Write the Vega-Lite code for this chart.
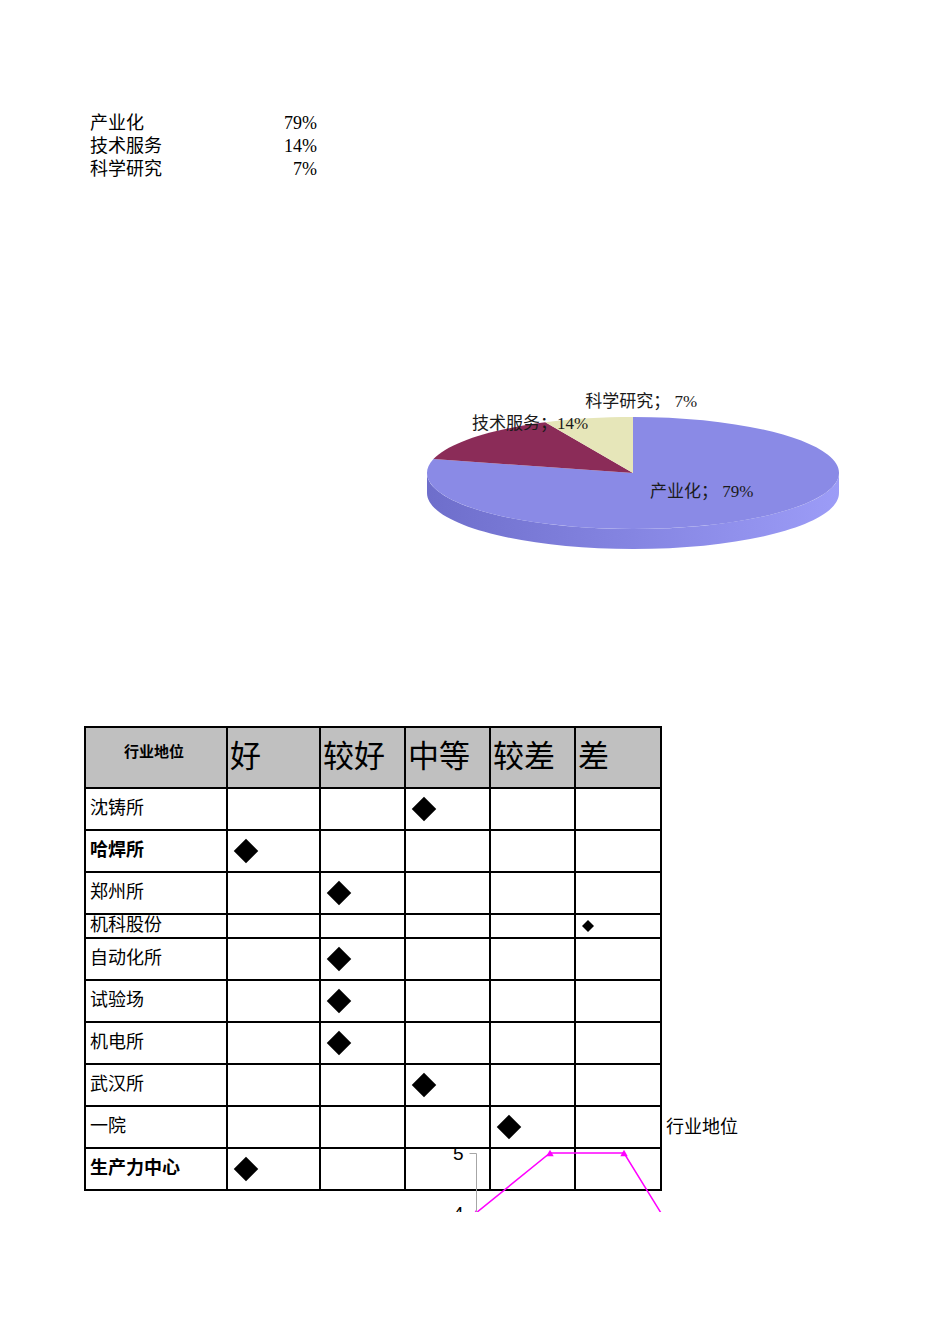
{
  "$schema": "https://vega.github.io/schema/vega-lite/v6.json",
  "width": 950,
  "height": 1212,
  "autosize": {"type": "none"},
  "padding": 0,
  "background": "#ffffff",
  "config": {"view": {"stroke": null}},
  "datasets": {
    "业务构成": [
      {"业务": "产业化", "占比": 0.79},
      {"业务": "技术服务", "占比": 0.14},
      {"业务": "科学研究", "占比": 0.07}
    ],
    "等级": [
      {"等级": "好", "分值": 5},
      {"等级": "较好", "分值": 4},
      {"等级": "中等", "分值": 3},
      {"等级": "较差", "分值": 2},
      {"等级": "差", "分值": 1}
    ],
    "表格": [
      {"序号": 1, "单位": "沈铸所", "行业地位": "中等"},
      {"序号": 2, "单位": "哈焊所", "行业地位": "好"},
      {"序号": 3, "单位": "郑州所", "行业地位": "较好"},
      {"序号": 4, "单位": "机科股份", "行业地位": "差"},
      {"序号": 5, "单位": "自动化所", "行业地位": "较好"},
      {"序号": 6, "单位": "试验场", "行业地位": "较好"},
      {"序号": 7, "单位": "机电所", "行业地位": "较好"},
      {"序号": 8, "单位": "武汉所", "行业地位": "中等"},
      {"序号": 9, "单位": "一院", "行业地位": "较差"},
      {"序号": 10, "单位": "生产力中心", "行业地位": "好"}
    ],
    "行业地位曲线": [
      {"系列": "行业地位", "点": 1, "分值": 4},
      {"系列": "行业地位", "点": 2, "分值": 5},
      {"系列": "行业地位", "点": 3, "分值": 5},
      {"系列": "行业地位", "点": 4, "分值": 3}
    ]
  },
  "layer": [
    {
      "data": {"name": "业务构成"},
      "layer": [
        {
          "mark": {"type": "text", "align": "left", "baseline": "middle", "fontSize": 18, "font": "Liberation Serif, Noto Sans CJK SC", "color": "#000000"},
          "encoding": {
            "x": {"datum": "业务", "type": "nominal", "scale": {"type": "point", "domain": ["业务", "占比"], "range": [90, 317], "padding": 0}, "axis": null},
            "y": {"field": "业务", "type": "nominal", "scale": {"type": "point", "domain": ["产业化", "技术服务", "科学研究"], "range": [124, 170], "padding": 0}, "axis": null},
            "text": {"field": "业务", "type": "nominal"}
          }
        },
        {
          "mark": {"type": "text", "align": "right", "baseline": "middle", "fontSize": 18, "font": "Liberation Serif, Noto Sans CJK SC", "color": "#000000"},
          "encoding": {
            "x": {"datum": "占比", "type": "nominal", "scale": {"type": "point", "domain": ["业务", "占比"], "range": [90, 317], "padding": 0}, "axis": null},
            "y": {"field": "业务", "type": "nominal", "scale": {"type": "point", "domain": ["产业化", "技术服务", "科学研究"], "range": [124, 170], "padding": 0}, "axis": null},
            "text": {"field": "占比", "type": "quantitative", "format": ".0%"}
          }
        }
      ]
    },
    {
      "data": {"name": "业务构成"},
      "layer": [
        {
          "transform": [{"filter": "datum['业务'] === '产业化'"}],
          "mark": {
            "type": "point",
            "shape": "M-1,0 A1,0.272 0 0,0 1,0 L1,0.097 A1,0.272 0 0,1 -1,0.097 Z",
            "filled": true, "size": 169744, "opacity": 1, "strokeWidth": 0,
            "color": {"gradient": "linear", "x1": 0, "y1": 0, "x2": 1, "y2": 0,
              "stops": [{"offset": 0, "color": "#6e6ecb"}, {"offset": 0.5, "color": "#8585e2"}, {"offset": 1, "color": "#9c9cf7"}]}
          },
          "encoding": {
            "x": {"datum": 0, "type": "quantitative", "scale": {"domain": [-1, 1], "range": [427, 839], "zero": false, "nice": false}, "axis": null},
            "y": {"datum": 0, "type": "quantitative", "scale": {"domain": [-1, 1], "range": [417, 529], "zero": false, "nice": false}, "axis": null}
          }
        },
        {
          "mark": {"type": "point", "filled": true, "size": 169744, "opacity": 1, "strokeWidth": 0},
          "encoding": {
            "x": {"datum": 0, "type": "quantitative", "scale": {"domain": [-1, 1], "range": [427, 839], "zero": false, "nice": false}, "axis": null},
            "y": {"datum": 0, "type": "quantitative", "scale": {"domain": [-1, 1], "range": [417, 529], "zero": false, "nice": false}, "axis": null},
            "shape": {"field": "业务", "type": "nominal", "legend": null, "scale": {
              "domain": ["产业化", "技术服务", "科学研究"],
              "range": [
                "M0,0 L0,-0.272 A1,0.272 0 1,1 -0.9686,-0.0676 Z",
                "M0,0 L-0.9686,-0.0676 A1,0.272 0 0,1 -0.4258,-0.2461 Z",
                "M0,0 L-0.4258,-0.2461 A1,0.272 0 0,1 0,-0.272 Z"
              ]}},
            "color": {"field": "业务", "type": "nominal", "legend": null, "scale": {
              "domain": ["产业化", "技术服务", "科学研究"],
              "range": ["#8a8ae6", "#8b2c58", "#e6e6b9"]}}
          }
        },
        {
          "transform": [{"filter": "datum['业务'] === '科学研究'"}, {"calculate": "datum['业务'] + '； ' + format(datum['占比'], '.0%')", "as": "标签"}],
          "mark": {"type": "text", "align": "center", "baseline": "middle", "fontSize": 17, "font": "Liberation Serif, Noto Sans CJK SC", "color": "#1a1a1a"},
          "encoding": {
            "x": {"datum": 0.04, "type": "quantitative", "scale": {"domain": [-1, 1], "range": [427, 839], "zero": false, "nice": false}, "axis": null},
            "y": {"datum": -1.27, "type": "quantitative", "scale": {"domain": [-1, 1], "range": [417, 529], "zero": false, "nice": false}, "axis": null},
            "text": {"field": "标签", "type": "nominal"}
          }
        },
        {
          "transform": [{"filter": "datum['业务'] === '技术服务'"}, {"calculate": "datum['业务'] + '；' + format(datum['占比'], '.0%')", "as": "标签"}],
          "mark": {"type": "text", "align": "center", "baseline": "middle", "fontSize": 17, "font": "Liberation Serif, Noto Sans CJK SC", "color": "#1a1a1a"},
          "encoding": {
            "x": {"datum": -0.5, "type": "quantitative", "scale": {"domain": [-1, 1], "range": [427, 839], "zero": false, "nice": false}, "axis": null},
            "y": {"datum": -0.875, "type": "quantitative", "scale": {"domain": [-1, 1], "range": [417, 529], "zero": false, "nice": false}, "axis": null},
            "text": {"field": "标签", "type": "nominal"}
          }
        },
        {
          "transform": [{"filter": "datum['业务'] === '产业化'"}, {"calculate": "datum['业务'] + '； ' + format(datum['占比'], '.0%')", "as": "标签"}],
          "mark": {"type": "text", "align": "center", "baseline": "middle", "fontSize": 17, "font": "Liberation Serif, Noto Sans CJK SC", "color": "#1a1a1a"},
          "encoding": {
            "x": {"datum": 0.333, "type": "quantitative", "scale": {"domain": [-1, 1], "range": [427, 839], "zero": false, "nice": false}, "axis": null},
            "y": {"datum": 0.34, "type": "quantitative", "scale": {"domain": [-1, 1], "range": [417, 529], "zero": false, "nice": false}, "axis": null},
            "text": {"field": "标签", "type": "nominal"}
          }
        }
      ]
    },
    {
      "layer": [
        {
          "data": {"values": [{"表头": "行业地位"}]},
          "mark": {"type": "rect", "fill": "#c0c0c0", "stroke": "#000000", "strokeWidth": 2},
          "encoding": {
            "x": {"datum": 7, "type": "quantitative", "scale": {"type": "linear", "domain": [1, 2, 3, 4, 5, 6, 7], "range": [661, 575, 490, 405, 320, 227, 85], "zero": false, "nice": false}, "axis": null},
            "x2": {"datum": 6},
            "y": {"datum": 0, "type": "quantitative", "scale": {"type": "linear", "domain": [0, 1, 2, 3, 4, 5, 6, 7, 8, 9, 10, 11], "range": [727, 788, 830, 872, 914, 938, 980, 1022, 1064, 1106, 1148, 1190], "zero": false, "nice": false}, "axis": null},
            "y2": {"datum": 1}
          }
        },
        {
          "data": {"name": "等级"},
          "transform": [{"bin": {"step": 1, "anchor": 0, "extent": [0, 12], "nice": false}, "field": "分值", "as": ["分值_起", "分值_止"]}],
          "mark": {"type": "rect", "fill": "#c0c0c0", "stroke": "#000000", "strokeWidth": 2},
          "encoding": {
            "x": {"field": "分值_止", "type": "quantitative", "scale": {"type": "linear", "domain": [1, 2, 3, 4, 5, 6, 7], "range": [661, 575, 490, 405, 320, 227, 85], "zero": false, "nice": false}, "axis": null},
            "x2": {"field": "分值_起"},
            "y": {"datum": 0, "type": "quantitative", "scale": {"type": "linear", "domain": [0, 1, 2, 3, 4, 5, 6, 7, 8, 9, 10, 11], "range": [727, 788, 830, 872, 914, 938, 980, 1022, 1064, 1106, 1148, 1190], "zero": false, "nice": false}, "axis": null},
            "y2": {"datum": 1}
          }
        },
        {
          "data": {"name": "表格"},
          "transform": [{"bin": {"step": 1, "anchor": 0, "extent": [0, 12], "nice": false}, "field": "序号", "as": ["序号_起", "序号_止"]}],
          "mark": {"type": "rect", "fill": "#ffffff", "stroke": "#000000", "strokeWidth": 2},
          "encoding": {
            "x": {"datum": 7, "type": "quantitative", "scale": {"type": "linear", "domain": [1, 2, 3, 4, 5, 6, 7], "range": [661, 575, 490, 405, 320, 227, 85], "zero": false, "nice": false}, "axis": null},
            "x2": {"datum": 1},
            "y": {"field": "序号_起", "type": "quantitative", "scale": {"type": "linear", "domain": [0, 1, 2, 3, 4, 5, 6, 7, 8, 9, 10, 11], "range": [727, 788, 830, 872, 914, 938, 980, 1022, 1064, 1106, 1148, 1190], "zero": false, "nice": false}, "axis": null},
            "y2": {"field": "序号_止"}
          }
        },
        {
          "data": {"name": "等级"},
          "transform": [{"bin": {"step": 1, "anchor": 0, "extent": [0, 12], "nice": false}, "field": "分值", "as": ["分值_起", "分值_止"]}],
          "mark": {"type": "rule", "stroke": "#000000", "strokeWidth": 2},
          "encoding": {
            "x": {"field": "分值_止", "type": "quantitative", "scale": {"type": "linear", "domain": [1, 2, 3, 4, 5, 6, 7], "range": [661, 575, 490, 405, 320, 227, 85], "zero": false, "nice": false}, "axis": null},
            "y": {"datum": 0, "type": "quantitative", "scale": {"type": "linear", "domain": [0, 1, 2, 3, 4, 5, 6, 7, 8, 9, 10, 11], "range": [727, 788, 830, 872, 914, 938, 980, 1022, 1064, 1106, 1148, 1190], "zero": false, "nice": false}, "axis": null},
            "y2": {"datum": 11}
          }
        },
        {
          "data": {"values": [{"表头": "行业地位"}]},
          "mark": {"type": "text", "align": "center", "baseline": "middle", "fontSize": 15, "fontWeight": "bold", "font": "Noto Sans CJK SC", "color": "#000000", "dy": 25, "dx": -2},
          "encoding": {
            "x": {"datum": 6.5, "type": "quantitative", "scale": {"type": "linear", "domain": [1, 2, 3, 4, 5, 6, 7], "range": [661, 575, 490, 405, 320, 227, 85], "zero": false, "nice": false}, "axis": null},
            "y": {"datum": 0, "type": "quantitative", "scale": {"type": "linear", "domain": [0, 1, 2, 3, 4, 5, 6, 7, 8, 9, 10, 11], "range": [727, 788, 830, 872, 914, 938, 980, 1022, 1064, 1106, 1148, 1190], "zero": false, "nice": false}, "axis": null},
            "text": {"field": "表头", "type": "nominal"}
          }
        },
        {
          "data": {"name": "等级"},
          "transform": [{"bin": {"step": 1, "anchor": 0, "extent": [0, 12], "nice": false}, "field": "分值", "as": ["分值_起", "分值_止"]}],
          "mark": {"type": "text", "align": "left", "baseline": "middle", "fontSize": 31, "font": "Liberation Serif, Noto Sans CJK SC", "color": "#000000", "dy": 31, "dx": 3},
          "encoding": {
            "x": {"field": "分值_止", "type": "quantitative", "scale": {"type": "linear", "domain": [1, 2, 3, 4, 5, 6, 7], "range": [661, 575, 490, 405, 320, 227, 85], "zero": false, "nice": false}, "axis": null},
            "y": {"datum": 0, "type": "quantitative", "scale": {"type": "linear", "domain": [0, 1, 2, 3, 4, 5, 6, 7, 8, 9, 10, 11], "range": [727, 788, 830, 872, 914, 938, 980, 1022, 1064, 1106, 1148, 1190], "zero": false, "nice": false}, "axis": null},
            "text": {"field": "等级", "type": "nominal"}
          }
        },
        {
          "data": {"name": "表格"},
          "transform": [{"filter": {"not": {"field": "单位", "oneOf": ["哈焊所", "生产力中心", "机科股份"]}}}],
          "mark": {"type": "text", "align": "left", "baseline": "middle", "fontSize": 18, "font": "Liberation Serif, Noto Sans CJK SC", "color": "#000000", "dy": 21, "dx": 5},
          "encoding": {
            "x": {"datum": 7, "type": "quantitative", "scale": {"type": "linear", "domain": [1, 2, 3, 4, 5, 6, 7], "range": [661, 575, 490, 405, 320, 227, 85], "zero": false, "nice": false}, "axis": null},
            "y": {"field": "序号", "type": "quantitative", "scale": {"type": "linear", "domain": [0, 1, 2, 3, 4, 5, 6, 7, 8, 9, 10, 11], "range": [727, 788, 830, 872, 914, 938, 980, 1022, 1064, 1106, 1148, 1190], "zero": false, "nice": false}, "axis": null},
            "text": {"field": "单位", "type": "nominal"}
          }
        },
        {
          "data": {"name": "表格"},
          "transform": [{"filter": {"field": "单位", "oneOf": ["哈焊所", "生产力中心"]}}],
          "mark": {"type": "text", "align": "left", "baseline": "middle", "fontSize": 18, "fontWeight": "bold", "font": "Noto Sans CJK SC", "color": "#000000", "dy": 21, "dx": 5},
          "encoding": {
            "x": {"datum": 7, "type": "quantitative", "scale": {"type": "linear", "domain": [1, 2, 3, 4, 5, 6, 7], "range": [661, 575, 490, 405, 320, 227, 85], "zero": false, "nice": false}, "axis": null},
            "y": {"field": "序号", "type": "quantitative", "scale": {"type": "linear", "domain": [0, 1, 2, 3, 4, 5, 6, 7, 8, 9, 10, 11], "range": [727, 788, 830, 872, 914, 938, 980, 1022, 1064, 1106, 1148, 1190], "zero": false, "nice": false}, "axis": null},
            "text": {"field": "单位", "type": "nominal"}
          }
        },
        {
          "data": {"name": "表格"},
          "transform": [{"filter": {"field": "单位", "equal": "机科股份"}}],
          "mark": {"type": "text", "align": "left", "baseline": "middle", "fontSize": 18, "font": "Liberation Serif, Noto Sans CJK SC", "color": "#000000", "dy": 12, "dx": 5},
          "encoding": {
            "x": {"datum": 7, "type": "quantitative", "scale": {"type": "linear", "domain": [1, 2, 3, 4, 5, 6, 7], "range": [661, 575, 490, 405, 320, 227, 85], "zero": false, "nice": false}, "axis": null},
            "y": {"field": "序号", "type": "quantitative", "scale": {"type": "linear", "domain": [0, 1, 2, 3, 4, 5, 6, 7, 8, 9, 10, 11], "range": [727, 788, 830, 872, 914, 938, 980, 1022, 1064, 1106, 1148, 1190], "zero": false, "nice": false}, "axis": null},
            "text": {"field": "单位", "type": "nominal"}
          }
        },
        {
          "data": {"name": "表格"},
          "transform": [
            {"filter": {"not": {"field": "单位", "equal": "机科股份"}}},
            {"lookup": "行业地位", "from": {"data": {"name": "等级"}, "key": "等级", "fields": ["分值"]}},
            {"bin": {"step": 1, "anchor": 0, "extent": [0, 12], "nice": false}, "field": "分值", "as": ["分值_起", "分值_止"]}
          ],
          "mark": {"type": "point", "shape": "diamond", "filled": true, "size": 600, "opacity": 1, "color": "#000000", "xOffset": 19, "yOffset": 21},
          "encoding": {
            "x": {"field": "分值_止", "type": "quantitative", "scale": {"type": "linear", "domain": [1, 2, 3, 4, 5, 6, 7], "range": [661, 575, 490, 405, 320, 227, 85], "zero": false, "nice": false}, "axis": null},
            "y": {"field": "序号", "type": "quantitative", "scale": {"type": "linear", "domain": [0, 1, 2, 3, 4, 5, 6, 7, 8, 9, 10, 11], "range": [727, 788, 830, 872, 914, 938, 980, 1022, 1064, 1106, 1148, 1190], "zero": false, "nice": false}, "axis": null}
          }
        },
        {
          "data": {"name": "表格"},
          "transform": [
            {"filter": {"field": "单位", "equal": "机科股份"}},
            {"lookup": "行业地位", "from": {"data": {"name": "等级"}, "key": "等级", "fields": ["分值"]}},
            {"bin": {"step": 1, "anchor": 0, "extent": [0, 12], "nice": false}, "field": "分值", "as": ["分值_起", "分值_止"]}
          ],
          "mark": {"type": "point", "shape": "diamond", "filled": true, "size": 144, "opacity": 1, "color": "#000000", "xOffset": 13, "yOffset": 12},
          "encoding": {
            "x": {"field": "分值_止", "type": "quantitative", "scale": {"type": "linear", "domain": [1, 2, 3, 4, 5, 6, 7], "range": [661, 575, 490, 405, 320, 227, 85], "zero": false, "nice": false}, "axis": null},
            "y": {"field": "序号", "type": "quantitative", "scale": {"type": "linear", "domain": [0, 1, 2, 3, 4, 5, 6, 7, 8, 9, 10, 11], "range": [727, 788, 830, 872, 914, 938, 980, 1022, 1064, 1106, 1148, 1190], "zero": false, "nice": false}, "axis": null}
          }
        }
      ]
    },
    {
      "data": {"name": "行业地位曲线"},
      "encoding": {
        "x": {"field": "点", "type": "ordinal", "scale": {"type": "point", "domain": [1, 2, 3, 4], "range": [476, 698], "padding": 0}, "axis": null},
        "y": {"field": "分值", "type": "quantitative", "scale": {"domain": [4, 5], "range": [1213, 1153], "zero": false, "nice": false},
          "axis": {"orient": "left", "offset": -476, "zindex": 2, "values": [4, 5], "title": null, "grid": false, "domainColor": "#a6a6a6", "tickColor": "#a6a6a6", "tickSize": 7, "labelFontSize": 19, "labelFont": "Liberation Sans", "labelColor": "#000000", "labelPadding": 6, "labelBaseline": "middle", "format": "d"}},
        "color": {"field": "系列", "type": "nominal", "scale": {"range": ["#ff00ff"]},
          "legend": {"orient": "none", "legendX": 648, "legendY": 1119, "zindex": 2, "title": null, "symbolSize": 0, "symbolStrokeWidth": 0, "symbolOpacity": 0, "labelFontSize": 18, "labelFont": "Noto Sans CJK SC", "labelColor": "#000000", "labelOffset": 0, "padding": 0}}
      },
      "layer": [
        {"mark": {"type": "line", "strokeWidth": 1.5, "clip": true}},
        {"mark": {"type": "point", "shape": "triangle-up", "filled": true, "size": 55, "opacity": 1, "clip": true}}
      ]
    }
  ],
  "resolve": {
    "scale": {"x": "independent", "y": "independent", "color": "independent", "shape": "independent"},
    "axis": {"x": "independent", "y": "independent"},
    "legend": {"color": "independent", "shape": "independent"}
  }
}
